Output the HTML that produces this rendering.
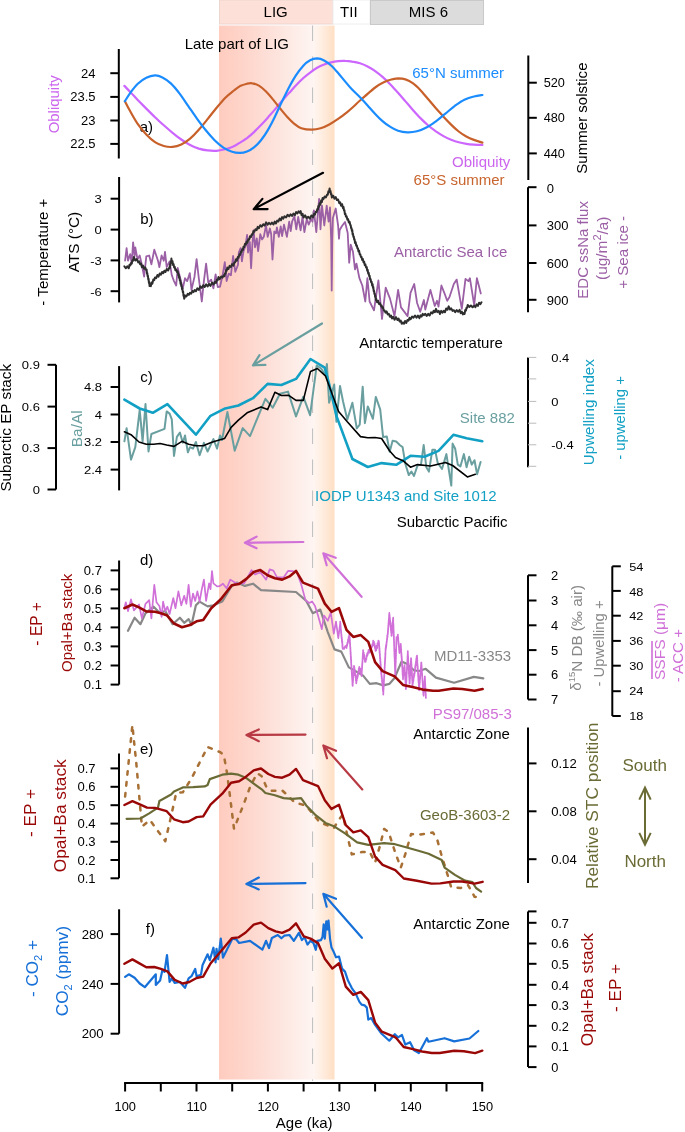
<!DOCTYPE html>
<html><head><meta charset="utf-8"><style>
html,body{margin:0;padding:0;background:#fff;}
svg{display:block;will-change:transform;}
text{font-family:"Liberation Sans",sans-serif;}
</style></head><body>
<svg width="685" height="1132" viewBox="0 0 685 1132">
<defs><linearGradient id="lig" x1="0" x2="1" y1="0" y2="0"><stop offset="0" stop-color="#ffccbf"/><stop offset="0.3" stop-color="#fed6cc"/><stop offset="0.6" stop-color="#fde3dc"/><stop offset="1" stop-color="#fef5f2"/></linearGradient><linearGradient id="tii" x1="0" x2="1" y1="0" y2="0"><stop offset="0" stop-color="#fff6f2"/><stop offset="0.3" stop-color="#fff0e6"/><stop offset="1" stop-color="#ffdfc4"/></linearGradient></defs>
<rect x="0" y="0" width="685" height="1132" fill="#fff"/>
<rect x="219.5" y="0" width="113.5" height="24" fill="#fde0d8" stroke="#ecd6d0" stroke-width="1"/>
<rect x="333" y="0" width="37" height="24" fill="#fff" stroke="#eeeeee" stroke-width="1"/>
<rect x="370.5" y="0.5" width="113" height="24" fill="#dcdcdc" stroke="#c9c9c9" stroke-width="1"/>
<text x="263.55" y="16.6" font-size="15" fill="#000" >LIG</text>
<text x="340.1" y="16.6" font-size="15" fill="#000" >TII</text>
<text x="408.85" y="16.6" font-size="15" fill="#000" >MIS 6</text>
<rect x="219" y="25.5" width="94" height="1054" fill="url(#lig)"/>
<rect x="313" y="25.5" width="21.5" height="1054" fill="url(#tii)"/>
<line x1="312.6" y1="25.5" x2="312.6" y2="1081" stroke="#bdbdbd" stroke-width="1" stroke-dasharray="15.5,15.5"/>
<text x="184.75" y="49" font-size="15" fill="#000" >Late part of LIG</text>
<line x1="118.8" y1="49" x2="118.8" y2="158.5" stroke="#000" stroke-width="2"/>
<line x1="110.3" y1="73.2" x2="118.8" y2="73.2" stroke="#000" stroke-width="2"/>
<line x1="110.3" y1="96.9" x2="118.8" y2="96.9" stroke="#000" stroke-width="2"/>
<line x1="110.3" y1="120.5" x2="118.8" y2="120.5" stroke="#000" stroke-width="2"/>
<line x1="110.3" y1="143.9" x2="118.8" y2="143.9" stroke="#000" stroke-width="2"/>
<text transform="translate(95.57,77.77) scale(1.025,1)" font-size="12.7" fill="#000" text-anchor="end">24</text>
<text transform="translate(95.57,101.47) scale(1.025,1)" font-size="12.7" fill="#000" text-anchor="end">23.5</text>
<text transform="translate(95.57,125.07) scale(1.025,1)" font-size="12.7" fill="#000" text-anchor="end">23</text>
<text transform="translate(95.57,148.47) scale(1.025,1)" font-size="12.7" fill="#000" text-anchor="end">22.5</text>
<text transform="translate(53.6,104.3) rotate(-90)" x="0" y="0" font-size="14.95" fill="#cc66ee" text-anchor="middle" dominant-baseline="central" >Obliquity</text>
<line x1="528.3" y1="55.5" x2="528.3" y2="180" stroke="#000" stroke-width="2"/>
<line x1="528.3" y1="82.7" x2="536.8" y2="82.7" stroke="#000" stroke-width="2"/>
<line x1="528.3" y1="117.8" x2="536.8" y2="117.8" stroke="#000" stroke-width="2"/>
<line x1="528.3" y1="153.4" x2="536.8" y2="153.4" stroke="#000" stroke-width="2"/>
<text transform="translate(543.73,87.27) scale(1.0,1)" font-size="12.7" fill="#000" text-anchor="start">520</text>
<text transform="translate(543.73,122.37) scale(1.0,1)" font-size="12.7" fill="#000" text-anchor="start">480</text>
<text transform="translate(543.73,157.97) scale(1.0,1)" font-size="12.7" fill="#000" text-anchor="start">440</text>
<text transform="translate(581.0,118.1) rotate(-90)" x="0" y="0" font-size="15.06" fill="#000" text-anchor="middle" dominant-baseline="central" >Summer solstice</text>
<text x="139.65" y="131.6" font-size="15" fill="#000" >a)</text>
<text x="412.25" y="78.1" font-size="15" fill="#1a8cff" >65°N summer</text>
<text x="452.0" y="167.4" font-size="15" fill="#cc66ee" >Obliquity</text>
<text x="413.55" y="185" font-size="15" fill="#c8642d" >65°S summer</text>
<path d="M124.4,85.9 C125.4,86.9 128.3,89.9 130.5,92.2 C132.7,94.5 134.9,97.1 137.5,99.8 C140.1,102.5 143.4,105.7 146.3,108.6 C149.2,111.5 152.1,114.4 155.0,117.2 C157.9,120.0 160.9,122.7 163.8,125.3 C166.7,127.9 169.7,130.5 172.6,132.8 C175.5,135.2 178.4,137.5 181.3,139.5 C184.2,141.5 187.2,143.4 190.1,144.9 C193.0,146.4 195.9,147.6 198.8,148.6 C201.7,149.5 204.7,150.1 207.6,150.4 C210.5,150.8 213.5,151.0 216.4,150.8 C219.3,150.6 222.2,150.0 225.1,149.3 C228.0,148.5 231.4,147.3 233.9,146.2 C236.4,145.1 237.8,143.9 240.0,142.6 C242.2,141.2 244.7,139.8 247.0,138.1 C249.3,136.3 251.7,134.3 254.0,132.1 C256.3,129.9 258.7,127.5 261.0,125.1 C263.3,122.6 265.7,120.0 268.0,117.4 C270.3,114.8 272.7,112.1 275.0,109.4 C277.3,106.6 279.6,103.8 282.0,101.0 C284.4,98.3 286.8,95.5 289.1,92.9 C291.5,90.3 293.8,87.6 296.1,85.2 C298.4,82.8 300.8,80.5 303.1,78.3 C305.4,76.2 307.8,74.3 310.1,72.6 C312.4,70.8 314.8,69.2 317.1,67.8 C319.4,66.5 321.8,65.4 324.1,64.5 C326.4,63.5 328.8,62.9 331.1,62.4 C333.4,61.9 335.8,61.5 338.1,61.2 C340.4,60.9 342.8,60.8 345.1,60.9 C347.4,60.9 349.6,61.1 352.1,61.6 C354.6,62.0 357.4,62.5 360.0,63.3 C362.6,64.1 365.1,65.2 367.6,66.5 C370.1,67.8 372.7,69.4 375.2,71.1 C377.7,72.9 380.3,74.9 382.8,77.1 C385.3,79.3 387.9,81.8 390.4,84.4 C392.9,87.0 395.5,89.9 398.0,92.7 C400.5,95.5 403.0,98.5 405.5,101.4 C408.0,104.3 410.6,107.3 413.1,110.2 C415.6,113.0 418.2,115.9 420.7,118.4 C423.2,121.0 425.8,123.4 428.3,125.5 C430.8,127.7 433.4,129.6 435.9,131.4 C438.4,133.1 441.0,134.7 443.5,136.1 C446.0,137.5 448.6,138.8 451.1,139.8 C453.6,140.8 456.2,141.7 458.7,142.3 C461.2,143.0 463.8,143.5 466.3,143.9 C468.8,144.3 471.2,144.5 473.9,144.7 C476.6,144.9 481.0,144.9 482.4,144.9" fill="none" stroke="#cc66ff" stroke-width="2.2" stroke-linecap="round" />
<path d="M124.9,101.2 C125.8,103.0 128.4,108.1 130.5,111.8 C132.6,115.6 134.9,119.8 137.5,123.6 C140.1,127.4 143.4,131.4 146.3,134.5 C149.2,137.6 152.1,140.2 155.0,142.1 C157.9,144.0 160.9,145.2 163.8,146.0 C166.7,146.8 169.7,147.2 172.6,146.9 C175.5,146.7 178.4,145.9 181.3,144.5 C184.2,143.1 187.2,141.0 190.1,138.6 C193.0,136.1 195.9,133.0 198.8,129.7 C201.7,126.5 204.7,122.7 207.6,119.1 C210.5,115.5 213.5,111.6 216.4,108.0 C219.3,104.5 222.2,100.9 225.1,97.9 C228.0,95.0 231.4,92.5 233.9,90.5 C236.4,88.5 237.8,87.3 240.0,86.1 C242.2,85.0 244.9,84.2 247.0,83.7 C249.1,83.2 250.2,82.9 252.3,83.3 C254.4,83.6 257.0,84.5 259.3,85.9 C261.6,87.3 264.0,89.5 266.3,91.8 C268.6,94.2 271.0,97.1 273.3,99.9 C275.6,102.7 278.0,105.8 280.3,108.7 C282.6,111.5 285.0,114.5 287.3,117.0 C289.6,119.5 292.0,121.9 294.3,123.8 C296.6,125.7 298.4,127.2 301.3,128.2 C304.2,129.2 308.6,129.7 311.8,129.7 C315.0,129.7 317.7,129.2 320.6,128.3 C323.5,127.4 326.4,126.1 329.3,124.5 C332.2,122.9 335.2,120.9 338.1,118.9 C341.0,116.9 344.3,114.4 346.9,112.3 C349.5,110.2 351.7,108.2 353.9,106.2 C356.1,104.2 357.7,102.5 360.0,100.5 C362.3,98.4 365.1,96.1 367.6,93.9 C370.1,91.7 372.7,89.4 375.2,87.5 C377.7,85.6 380.3,84.0 382.8,82.8 C385.3,81.5 387.9,80.5 390.4,79.8 C392.9,79.0 395.5,78.5 398.0,78.4 C400.5,78.4 403.0,78.5 405.5,79.4 C408.0,80.2 410.6,81.6 413.1,83.4 C415.6,85.2 418.2,87.8 420.7,90.4 C423.2,93.1 425.8,96.3 428.3,99.3 C430.8,102.3 433.4,105.4 435.9,108.3 C438.4,111.2 441.0,113.9 443.5,116.7 C446.0,119.4 448.6,122.1 451.1,124.6 C453.6,127.1 456.2,129.5 458.7,131.5 C461.2,133.5 463.8,135.1 466.3,136.5 C468.8,137.9 471.2,138.9 473.9,139.9 C476.6,140.9 481.0,142.2 482.4,142.6" fill="none" stroke="#c8602a" stroke-width="2.2" stroke-linecap="round" />
<path d="M124.9,101.2 C125.8,99.8 128.4,95.4 130.5,92.6 C132.6,89.7 134.9,86.5 137.5,84.0 C140.1,81.6 143.4,79.2 146.3,77.8 C149.2,76.3 152.4,75.5 155.0,75.4 C157.6,75.3 159.4,75.8 162.0,77.2 C164.6,78.5 167.9,80.7 170.8,83.4 C173.7,86.1 176.7,89.8 179.6,93.6 C182.5,97.4 185.4,101.9 188.3,106.1 C191.2,110.3 194.2,114.7 197.1,118.8 C200.0,122.8 202.9,126.7 205.8,130.3 C208.7,133.9 211.7,137.3 214.6,140.2 C217.5,143.1 220.5,145.6 223.4,147.6 C226.3,149.5 229.3,150.9 232.1,151.8 C234.9,152.7 237.5,153.0 240.0,152.9 C242.5,152.9 244.7,152.4 247.0,151.4 C249.3,150.5 251.7,149.2 254.0,147.3 C256.3,145.5 258.7,143.1 261.0,140.2 C263.3,137.3 265.7,133.9 268.0,129.9 C270.3,126.0 272.7,121.3 275.0,116.5 C277.3,111.8 279.6,106.3 282.0,101.5 C284.4,96.6 286.8,91.6 289.1,87.2 C291.5,82.8 293.8,78.7 296.1,75.2 C298.4,71.6 300.8,68.4 303.1,65.9 C305.4,63.3 307.8,61.4 310.1,60.2 C312.4,58.9 314.8,58.4 317.1,58.4 C319.4,58.5 321.8,59.2 324.1,60.4 C326.4,61.6 328.8,63.4 331.1,65.5 C333.4,67.6 335.8,70.4 338.1,73.0 C340.4,75.6 342.8,78.7 345.1,81.4 C347.4,84.2 349.6,86.9 352.1,89.6 C354.6,92.2 357.4,94.6 360.0,97.2 C362.6,99.9 365.1,102.6 367.6,105.4 C370.1,108.2 372.7,111.3 375.2,113.9 C377.7,116.6 380.3,119.2 382.8,121.3 C385.3,123.5 387.9,125.4 390.4,126.9 C392.9,128.5 395.2,129.8 398.0,130.7 C400.8,131.6 404.2,132.2 407.4,132.3 C410.5,132.4 413.7,132.1 416.9,131.3 C420.1,130.5 423.2,129.2 426.4,127.5 C429.6,125.9 432.7,123.6 435.9,121.3 C439.1,119.0 442.2,116.1 445.4,113.6 C448.6,111.0 451.7,108.1 454.9,105.8 C458.1,103.6 461.2,101.4 464.4,99.8 C467.6,98.3 470.9,97.3 473.9,96.5 C476.9,95.6 481.0,95.2 482.4,95.0" fill="none" stroke="#1a8cff" stroke-width="2.2" stroke-linecap="round" />
<line x1="119.1" y1="177" x2="119.1" y2="302.4" stroke="#000" stroke-width="2"/>
<line x1="110.6" y1="198.7" x2="119.1" y2="198.7" stroke="#000" stroke-width="2"/>
<line x1="110.6" y1="229.6" x2="119.1" y2="229.6" stroke="#000" stroke-width="2"/>
<line x1="110.6" y1="260.4" x2="119.1" y2="260.4" stroke="#000" stroke-width="2"/>
<line x1="110.6" y1="291.2" x2="119.1" y2="291.2" stroke="#000" stroke-width="2"/>
<text transform="translate(101.72,202.68) scale(1.12,1)" font-size="11.6" fill="#000" text-anchor="end">3</text>
<text transform="translate(101.72,233.78) scale(1.12,1)" font-size="11.6" fill="#000" text-anchor="end">0</text>
<text transform="translate(101.72,264.88) scale(1.12,1)" font-size="11.6" fill="#000" text-anchor="end">-3</text>
<text transform="translate(101.72,295.68) scale(1.12,1)" font-size="11.6" fill="#000" text-anchor="end">-6</text>
<text transform="translate(73.85,242.0) rotate(-90)" x="0" y="0" font-size="15.36" fill="#000" text-anchor="middle" dominant-baseline="central" >ATS (°C)</text>
<text transform="translate(42.8,252.1) rotate(-90)" x="0" y="0" font-size="15.17" fill="#000" text-anchor="middle" dominant-baseline="central" >- Temperature +</text>
<text x="140.25" y="224.3" font-size="15" fill="#000" >b)</text>
<line x1="528" y1="187.2" x2="528" y2="312.3" stroke="#000" stroke-width="2"/>
<line x1="528" y1="187.2" x2="536.5" y2="187.2" stroke="#000" stroke-width="2"/>
<line x1="528" y1="225.4" x2="536.5" y2="225.4" stroke="#000" stroke-width="2"/>
<line x1="528" y1="263" x2="536.5" y2="263" stroke="#000" stroke-width="2"/>
<line x1="528" y1="299.8" x2="536.5" y2="299.8" stroke="#000" stroke-width="2"/>
<text transform="translate(546.73,192.77) scale(1.025,1)" font-size="12.7" fill="#000" text-anchor="start">0</text>
<text transform="translate(546.73,230.17) scale(1.025,1)" font-size="12.7" fill="#000" text-anchor="start">300</text>
<text transform="translate(546.73,267.57) scale(1.025,1)" font-size="12.7" fill="#000" text-anchor="start">600</text>
<text transform="translate(546.73,304.97) scale(1.025,1)" font-size="12.7" fill="#000" text-anchor="start">900</text>
<text transform="translate(582.8,249.9) rotate(-90)" x="0" y="0" font-size="15.03" fill="#9b5fa5" text-anchor="middle" dominant-baseline="central" >EDC ssNa flux</text>
<text transform="translate(601.85,248.25) rotate(-90)" x="0" y="0" font-size="15.42" fill="#9b5fa5" text-anchor="middle" dominant-baseline="central" >(ug/m<tspan dy="-5" font-size="11">2</tspan><tspan dy="5">/a)</tspan></text>
<text transform="translate(622.2,252.35) rotate(-90)" x="0" y="0" font-size="15.19" fill="#9b5fa5" text-anchor="middle" dominant-baseline="central" >+ Sea ice -</text>
<text x="393.95" y="257.4" font-size="15" fill="#9b5fa5" >Antarctic Sea Ice</text>
<text x="359.35" y="347.6" font-size="15" fill="#000" >Antarctic temperature</text>
<polyline  points="125.1,260.7 126.6,248.2 128.0,260.7 130.2,254.1 131.7,263.6 133.1,242.4 134.6,256.3 135.3,247.5 137.5,259.2 139.7,255.5 141.9,265.0 144.1,276.7 146.3,256.3 149.2,255.5 151.4,264.3 154.3,249.7 158.0,260.7 159.4,267.2 161.6,255.5 163.8,260.7 165.0,251.9 166.7,267.2 169.6,261.4 171.8,275.3 174.0,281.1 176.2,285.5 177.7,268.0 179.9,276.7 182.8,288.4 185.0,278.2 187.2,281.1 189.8,273.1 191.5,289.9 194.5,276.7 196.6,259.2 198.8,278.2 201.8,301.5 203.9,281.1 206.1,263.6 208.3,282.6 211.2,279.6 213.4,288.4 215.6,274.5 217.8,287.0 220.0,286.7 222.6,275.3 224.8,262.2 226.6,281.0 228.8,273.6 230.9,275.3 233.1,256.0 235.3,271.8 238.0,264.8 238.8,252.5 240.6,248.2 241.9,261.3 243.6,250.8 245.4,246.4 247.1,235.0 248.0,252.5 249.8,242.0 251.1,268.3 252.4,243.8 253.7,230.2 255.0,247.3 256.8,238.5 258.1,251.2 260.3,234.2 262.0,239.4 263.8,236.8 266.0,225.4 267.7,236.8 269.9,228.5 271.2,234.2 272.5,259.5 274.3,231.5 276.0,233.3 276.9,227.4 278.8,236.9 280.7,226.5 282.1,236.0 284.0,224.6 286.9,236.9 289.2,221.7 290.7,231.2 292.1,221.7 294.4,216.1 296.3,229.3 298.2,217.0 300.6,230.3 302.5,217.0 304.4,232.2 306.8,218.9 308.7,224.6 311.1,218.9 312.5,221.7 313.9,210.4 316.3,232.2 319.1,199.0 320.5,229.3 322.0,205.6 324.3,225.5 326.7,205.6 328.6,221.7 330.0,207.5 331.2,240.0 331.7,290.6 332.3,240.0 332.9,218.0 335.7,208.5 338.1,225.5 339.0,238.8 339.7,230.0 342.0,226.0 345.0,222.0 347.7,233.0 349.2,262.8 350.7,244.6 353.0,252.0 355.0,269.4 356.5,263.6 359.4,278.2 362.3,285.5 365.3,301.5 367.4,278.2 369.6,301.5 374.0,310.3 375.5,300.0 378.4,280.4 382.0,319.0 385.7,287.7 390.0,298.6 394.5,316.1 398.1,289.9 401.0,307.4 407.6,316.1 410.5,292.8 414.2,284.0 417.1,303.0 420.2,311.8 423.9,300.0 425.3,309.6 430.4,289.9 434.8,305.9 437.0,300.8 438.5,306.6 441.4,285.5 444.3,292.8 447.2,300.8 449.4,297.2 453.8,284.0 456.7,279.6 461.8,308.8 465.5,278.9 468.4,281.1 469.9,278.2 474.2,305.2 476.9,278.2 478.6,284.7 480.8,293.5" fill="none" stroke="#9b5fa5" stroke-width="1.8" stroke-linejoin="round" stroke-linecap="round"/>
<polyline  points="124.4,266.4 125.9,268.3 127.3,266.3 128.8,268.3 129.5,264.8 130.3,265.4 131.0,262.9 131.7,263.6 132.4,260.2 133.2,260.6 133.9,257.0 135.3,260.5 136.8,259.1 138.2,262.4 139.1,261.3 140.1,264.3 141.0,263.5 141.9,267.2 143.0,265.6 144.1,268.9 145.2,267.3 146.3,270.1 146.6,269.6 147.0,273.6 147.3,273.1 147.6,276.1 147.9,275.7 148.3,279.6 148.6,278.8 148.9,283.0 149.2,281.9 149.6,286.1 149.9,285.2 150.8,286.2 151.6,282.5 152.4,283.6 153.3,279.5 154.2,280.2 155.0,277.5 156.2,278.1 157.4,275.0 158.5,276.6 159.7,273.5 160.9,274.7 162.1,272.0 163.2,273.3 164.4,270.7 165.5,272.0 166.7,269.0 168.1,270.5 169.6,266.8 169.9,268.1 170.2,263.9 170.5,265.4 170.8,261.4 171.1,262.0 171.4,258.5 171.9,262.7 172.5,261.2 173.1,265.1 173.6,264.1 174.1,267.4 174.7,266.7 175.4,270.3 176.2,269.5 176.9,272.1 177.7,271.3 178.4,275.3 178.8,274.6 179.1,278.0 179.5,277.2 179.8,280.4 180.2,280.2 180.6,283.9 180.9,282.7 181.3,286.1 181.7,285.8 182.0,289.1 182.4,288.6 182.8,292.2 183.1,291.4 183.5,295.8 183.8,294.7 184.2,298.7 185.4,295.6 186.5,296.4 187.7,293.8 188.8,294.9 190.0,292.7 191.2,293.7 192.4,290.9 193.5,292.1 194.7,290.0 195.9,291.3 197.4,288.3 198.8,289.9 200.3,286.3 201.7,287.9 203.2,285.2 204.7,287.0 206.1,284.4 207.6,286.4 209.0,283.9 210.5,285.9 212.0,282.6 213.5,284.5 215.0,281.8 215.9,283.0 216.8,279.8 217.6,280.4 218.5,277.0 219.8,279.1 221.2,276.5 222.5,277.6 223.8,275.3 224.4,276.2 225.0,273.2 225.6,273.7 226.1,270.1 226.7,270.7 227.3,267.6 228.5,269.0 229.6,265.9 230.8,267.1 232.1,264.1 233.4,265.7 234.3,262.5 235.1,262.5 236.0,259.3 236.9,260.7 237.8,257.1 238.6,257.6 239.5,254.2 240.2,254.9 240.8,251.8 241.5,252.3 242.2,249.2 242.9,250.0 243.5,246.7 244.2,247.2 245.0,243.8 245.9,244.4 246.7,241.5 247.5,242.6 248.3,239.2 249.2,239.6 250.0,236.3 250.9,237.1 251.8,234.2 252.6,234.6 253.5,231.1 254.4,231.7 255.5,229.2 256.6,230.1 257.7,226.9 258.8,228.3 260.3,225.2 261.7,226.6 263.2,224.2 264.6,225.6 266.1,222.3 267.6,224.7 269.0,222.9 270.5,224.4 271.9,222.6 273.4,224.5 274.7,221.6 275.9,223.5 277.2,220.6 278.4,221.4 279.7,218.5 280.9,220.3 282.1,217.1 283.3,218.6 284.5,216.3 286.1,217.4 287.6,214.8 289.2,216.4 290.6,214.3 292.0,215.9 293.5,213.6 294.9,215.2 296.1,212.0 297.3,213.5 298.5,211.4 299.7,212.7 300.6,211.1 301.6,215.2 302.6,213.9 303.5,217.6 305.1,215.3 306.6,218.2 308.2,216.7 309.8,218.7 311.4,215.5 313.0,217.2 313.9,214.0 314.9,214.6 315.8,211.7 316.7,212.0 317.3,208.9 317.9,209.5 318.4,206.0 319.0,206.7 319.6,203.3 320.4,204.6 321.1,200.6 321.9,202.1 322.6,197.9 323.4,199.1 324.7,196.5 325.9,197.4 327.2,194.4 327.8,194.6 328.4,191.2 329.0,192.0 329.6,188.5 330.1,192.3 330.5,191.0 331.0,194.4 331.4,194.0 331.9,197.5 333.2,195.7 334.4,198.7 335.7,197.1 336.9,200.0 338.1,199.5 339.3,203.1 340.2,202.3 341.1,205.7 342.1,204.2 343.0,208.2 343.5,207.0 344.0,210.4 344.4,210.1 344.9,214.1 345.4,213.6 345.9,216.5 346.6,216.3 347.4,219.7 348.1,219.1 348.8,222.5 349.6,221.7 350.3,225.0 350.7,225.2 351.1,228.0 351.5,228.0 351.9,230.8 352.3,230.1 352.6,234.4 353.0,233.8 353.4,237.0 353.8,236.5 354.2,239.7 354.6,239.3 355.0,242.9 355.6,242.0 356.2,245.5 356.8,245.3 357.4,248.4 357.9,248.3 358.5,251.6 359.1,250.7 359.7,254.3 360.3,254.2 360.9,257.1 361.5,256.7 362.2,260.0 362.8,258.9 363.5,262.4 364.1,261.5 364.8,265.3 365.4,264.4 366.1,267.6 366.7,267.0 367.2,270.7 367.7,269.9 368.2,273.6 368.7,272.8 369.2,276.1 369.6,275.7 370.1,279.4 370.6,279.0 371.1,282.1 371.6,281.6 372.1,285.4 372.6,284.1 373.0,287.9 373.3,287.0 373.7,291.2 374.0,290.5 374.4,293.8 374.8,293.5 375.1,297.0 375.5,295.9 375.8,299.9 376.2,298.7 377.1,302.2 378.1,300.7 379.0,304.0 380.0,303.2 380.9,306.0 381.6,305.5 382.3,308.1 383.0,307.3 383.7,310.4 384.4,310.3 385.5,312.6 386.6,311.4 387.7,314.4 388.8,313.9 389.9,316.7 391.0,315.5 392.0,318.5 393.1,316.8 394.6,319.7 396.0,317.1 397.5,320.0 398.6,318.5 399.6,321.5 400.7,320.5 401.7,323.8 402.8,322.5 404.0,323.7 405.1,321.0 406.3,322.9 407.4,320.0 408.5,320.6 409.5,317.8 410.6,319.3 412.1,316.6 413.5,317.6 415.0,315.5 416.5,317.7 417.9,315.6 419.4,318.1 420.5,315.4 421.6,316.6 422.7,313.9 423.8,315.1 425.3,313.9 426.7,316.0 428.2,313.9 429.6,315.5 431.1,312.4 432.5,313.5 433.7,310.7 434.8,312.3 436.0,308.9 437.3,312.1 438.7,310.9 440.0,314.0 441.2,310.9 442.5,312.6 443.8,310.8 445.0,312.3 446.2,308.4 447.5,309.7 448.7,306.4 450.0,309.5 451.2,308.4 452.5,310.9 453.8,310.2 455.2,312.1 456.7,310.1 458.2,311.8 459.6,309.8 460.7,313.2 461.8,311.6 462.9,314.4 464.0,312.9 464.6,313.9 465.2,310.1 465.9,310.7 466.5,307.8 467.1,307.9 467.7,304.9 469.3,307.0 470.9,305.5 472.6,307.3 474.2,305.7 475.4,307.2 476.6,304.4 477.9,305.9 479.1,302.7 480.3,304.2 481.5,302.3" fill="none" stroke="#2e2e2e" stroke-width="2.0" stroke-linejoin="round" stroke-linecap="round"/>
<path d="M323,172.8 L253.7,209.1 M262.4,198.9 L253.7,209.1 L267.6,209.1" fill="none" stroke="#000" stroke-width="2.2" stroke-linecap="round" stroke-linejoin="round"/>
<line x1="56" y1="364.8" x2="56" y2="489.5" stroke="#000" stroke-width="2"/>
<line x1="47.5" y1="364.8" x2="56" y2="364.8" stroke="#000" stroke-width="2"/>
<line x1="47.5" y1="406.6" x2="56" y2="406.6" stroke="#000" stroke-width="2"/>
<line x1="47.5" y1="448.1" x2="56" y2="448.1" stroke="#000" stroke-width="2"/>
<line x1="47.5" y1="489.5" x2="56" y2="489.5" stroke="#000" stroke-width="2"/>
<text transform="translate(39.92,368.98) scale(1.12,1)" font-size="11.6" fill="#000" text-anchor="end">0.9</text>
<text transform="translate(39.92,410.78) scale(1.12,1)" font-size="11.6" fill="#000" text-anchor="end">0.6</text>
<text transform="translate(39.92,452.28) scale(1.12,1)" font-size="11.6" fill="#000" text-anchor="end">0.3</text>
<text transform="translate(39.92,493.68) scale(1.12,1)" font-size="11.6" fill="#000" text-anchor="end">0</text>
<text transform="translate(5.8,427.75) rotate(-90)" x="0" y="0" font-size="15.25" fill="#000" text-anchor="middle" dominant-baseline="central" >Subarctic EP stack</text>
<line x1="119.1" y1="366.1" x2="119.1" y2="490.4" stroke="#000" stroke-width="2"/>
<line x1="110.6" y1="387" x2="119.1" y2="387" stroke="#000" stroke-width="2"/>
<line x1="110.6" y1="414.5" x2="119.1" y2="414.5" stroke="#000" stroke-width="2"/>
<line x1="110.6" y1="442" x2="119.1" y2="442" stroke="#000" stroke-width="2"/>
<line x1="110.6" y1="469.6" x2="119.1" y2="469.6" stroke="#000" stroke-width="2"/>
<text transform="translate(102.02,391.08) scale(1.12,1)" font-size="11.6" fill="#000" text-anchor="end">4.8</text>
<text transform="translate(102.02,418.88) scale(1.12,1)" font-size="11.6" fill="#000" text-anchor="end">4</text>
<text transform="translate(102.02,446.18) scale(1.12,1)" font-size="11.6" fill="#000" text-anchor="end">3.2</text>
<text transform="translate(102.02,473.98) scale(1.12,1)" font-size="11.6" fill="#000" text-anchor="end">2.4</text>
<text transform="translate(76.05,428.75) rotate(-90)" x="0" y="0" font-size="15.4" fill="#6a9fa0" text-anchor="middle" dominant-baseline="central" >Ba/Al</text>
<text x="140.35" y="382" font-size="15" fill="#000" >c)</text>
<line x1="528" y1="357.4" x2="528" y2="467.2" stroke="#000" stroke-width="2"/>
<line x1="528" y1="357.4" x2="536.3" y2="357.4" stroke="#bbb" stroke-width="1"/>
<line x1="528" y1="378.9" x2="536.3" y2="378.9" stroke="#bbb" stroke-width="1"/>
<line x1="528" y1="401.4" x2="536.3" y2="401.4" stroke="#bbb" stroke-width="1"/>
<line x1="528" y1="423.2" x2="536.3" y2="423.2" stroke="#bbb" stroke-width="1"/>
<line x1="528" y1="444.8" x2="536.3" y2="444.8" stroke="#bbb" stroke-width="1"/>
<line x1="528" y1="466.3" x2="536.3" y2="466.3" stroke="#bbb" stroke-width="1"/>
<text transform="translate(551.28,361.98) scale(1.12,1)" font-size="11.6" fill="#000" text-anchor="start">0.4</text>
<text transform="translate(551.28,405.98) scale(1.12,1)" font-size="11.6" fill="#000" text-anchor="start">0</text>
<text transform="translate(551.28,449.38) scale(1.12,1)" font-size="11.6" fill="#000" text-anchor="start">-0.4</text>
<text transform="translate(588.85,412.2) rotate(-90)" x="0" y="0" font-size="15.15" fill="#12a0c4" text-anchor="middle" dominant-baseline="central" >Upwelling index</text>
<text transform="translate(619.8,417.95) rotate(-90)" x="0" y="0" font-size="14.8" fill="#12a0c4" text-anchor="middle" dominant-baseline="central" >- upwelling +</text>
<text x="459.85" y="422.6" font-size="15" fill="#6a9fa0" >Site 882</text>
<text x="315.1" y="500.5" font-size="15" fill="#12a0c4" >IODP U1343 and Site 1012</text>
<text x="396.7" y="527.1" font-size="15" fill="#000" >Subarctic Pacific</text>
<polyline  points="124.4,441.3 126.6,428.2 131.0,459.6 135.3,447.2 139.7,409.9 142.6,441.3 145.5,404.1 148.5,451.5 151.4,434.0 164.5,428.9 166.7,411.4 169.6,413.6 171.8,419.4 174.0,455.9 176.9,436.9 179.9,432.6 182.8,442.8 185.0,435.5 187.9,452.3 190.0,447.2 193.0,448.6 195.9,442.0 199.6,455.2 203.9,442.8 207.6,451.5 213.4,439.1 217.1,448.6 220.0,435.5 222.0,440.0 227.4,412.0 234.7,450.7 242.7,428.1 250.0,436.1 265.4,398.9 272.7,407.7 280.0,393.8 288.0,391.6 296.0,416.4 303.3,396.7 310.1,415.2 316.7,365.5 321.1,368.5 325.4,375.0 326.9,364.1 329.1,402.8 334.2,384.5 336.4,421.8 340.0,386.0 343.0,401.3 347.3,419.6 352.4,402.8 356.8,428.3 359.7,424.7 362.7,386.7 364.9,423.2 367.8,406.4 372.9,418.8 375.8,396.9 380.2,409.3 383.1,437.1 386.8,436.4 389.7,451.7 392.6,440.7 396.2,441.5 400.0,445.3 402.6,447.1 405.3,463.7 408.8,475.1 411.4,471.6 414.0,476.0 417.5,465.5 421.0,464.6 423.7,445.0 426.3,467.2 428.9,471.6 432.4,449.7 435.0,449.7 437.7,462.9 442.0,469.0 446.4,454.1 449.1,471.6 451.3,485.6 452.6,443.6 455.2,448.8 457.8,464.6 460.4,466.4 463.9,454.1 466.6,467.2 469.2,456.7 471.8,464.6 474.5,460.2 477.1,474.2 480.6,462.0" fill="none" stroke="#6a9fa0" stroke-width="2" stroke-linejoin="round" stroke-linecap="round"/>
<polyline  points="124.4,399.7 139.7,408.5 152.8,412.8 167.4,404.1 195.9,434.7 210.5,415.8 225.2,408.4 238.4,405.5 253.0,398.2 267.6,383.9 281.4,385.0 296.0,378.9 310.5,359.0 324.7,367.7 329.1,383.8 336.4,415.9 352.4,459.0 367.8,467.0 381.6,463.1 396.2,464.8 410.5,455.8 424.5,456.7 438.5,450.9 453.4,434.8 466.6,438.3 482.3,441.3" fill="none" stroke="#12a0c4" stroke-width="2.6" stroke-linejoin="round" stroke-linecap="round"/>
<polyline  points="124.4,431.8 131.0,434.7 139.0,442.0 146.3,444.2 153.6,444.2 160.1,443.5 166.7,445.0 174.0,446.4 182.0,441.3 188.6,444.2 195.9,445.7 203.2,445.7 210.5,442.8 215.0,441.2 224.5,438.6 231.1,427.4 238.4,420.1 247.1,412.8 261.0,406.9 267.6,409.6 274.9,392.3 281.4,395.5 288.7,395.3 296.0,400.4 303.3,400.4 310.5,371.4 317.4,368.5 325.4,375.8 338.6,411.5 347.3,421.8 360.5,436.6 367.8,437.8 375.0,437.5 381.6,438.5 389.7,451.0 395.5,457.5 403.5,461.1 410.5,467.2 417.5,464.6 430.7,466.0 445.5,462.5 452.6,465.5 467.4,476.9 475.3,474.2" fill="none" stroke="#000" stroke-width="1.6" stroke-linejoin="round" stroke-linecap="round"/>
<path d="M322,323.5 L253,365.3 M259.5,355.1 L253,365.3 L265.4,364.9" fill="none" stroke="#6a9fa0" stroke-width="2.2" stroke-linecap="round" stroke-linejoin="round"/>
<line x1="119.1" y1="560.5" x2="119.1" y2="684.6" stroke="#000" stroke-width="2"/>
<line x1="110.6" y1="570.4" x2="119.1" y2="570.4" stroke="#000" stroke-width="2"/>
<line x1="110.6" y1="589.4" x2="119.1" y2="589.4" stroke="#000" stroke-width="2"/>
<line x1="110.6" y1="608.4" x2="119.1" y2="608.4" stroke="#000" stroke-width="2"/>
<line x1="110.6" y1="627.4" x2="119.1" y2="627.4" stroke="#000" stroke-width="2"/>
<line x1="110.6" y1="646.4" x2="119.1" y2="646.4" stroke="#000" stroke-width="2"/>
<line x1="110.6" y1="665.5" x2="119.1" y2="665.5" stroke="#000" stroke-width="2"/>
<line x1="110.6" y1="684.6" x2="119.1" y2="684.6" stroke="#000" stroke-width="2"/>
<text transform="translate(101.84,574.62) scale(1.08,1)" font-size="12.0" fill="#000" text-anchor="end">0.7</text>
<text transform="translate(101.84,594.02) scale(1.08,1)" font-size="12.0" fill="#000" text-anchor="end">0.6</text>
<text transform="translate(101.84,613.22) scale(1.08,1)" font-size="12.0" fill="#000" text-anchor="end">0.5</text>
<text transform="translate(101.84,632.32) scale(1.08,1)" font-size="12.0" fill="#000" text-anchor="end">0.4</text>
<text transform="translate(101.84,651.42) scale(1.08,1)" font-size="12.0" fill="#000" text-anchor="end">0.3</text>
<text transform="translate(101.84,670.32) scale(1.08,1)" font-size="12.0" fill="#000" text-anchor="end">0.2</text>
<text transform="translate(101.84,689.02) scale(1.08,1)" font-size="12.0" fill="#000" text-anchor="end">0.1</text>
<text transform="translate(66.65,622.85) rotate(-90)" x="0" y="0" font-size="15.08" fill="#9a0707" text-anchor="middle" dominant-baseline="central" >Opal+Ba stack</text>
<text transform="translate(36.45,623.9) rotate(-90)" x="0" y="0" font-size="15.6" fill="#9a0707" text-anchor="middle" dominant-baseline="central" >- EP +</text>
<text x="140.0" y="565.2" font-size="15" fill="#000" >d)</text>
<line x1="528" y1="575.3" x2="528" y2="699.5" stroke="#000" stroke-width="2"/>
<line x1="528" y1="575.3" x2="536.5" y2="575.3" stroke="#000" stroke-width="2"/>
<line x1="528" y1="600.5" x2="536.5" y2="600.5" stroke="#000" stroke-width="2"/>
<line x1="528" y1="625.3" x2="536.5" y2="625.3" stroke="#000" stroke-width="2"/>
<line x1="528" y1="650.1" x2="536.5" y2="650.1" stroke="#000" stroke-width="2"/>
<line x1="528" y1="674.7" x2="536.5" y2="674.7" stroke="#000" stroke-width="2"/>
<line x1="528" y1="699.5" x2="536.5" y2="699.5" stroke="#000" stroke-width="2"/>
<text transform="translate(551.06,580.22) scale(1.08,1)" font-size="12.0" fill="#000" text-anchor="start">2</text>
<text transform="translate(551.06,605.02) scale(1.08,1)" font-size="12.0" fill="#000" text-anchor="start">3</text>
<text transform="translate(551.06,629.82) scale(1.08,1)" font-size="12.0" fill="#000" text-anchor="start">4</text>
<text transform="translate(551.06,654.62) scale(1.08,1)" font-size="12.0" fill="#000" text-anchor="start">5</text>
<text transform="translate(551.06,679.22) scale(1.08,1)" font-size="12.0" fill="#000" text-anchor="start">6</text>
<text transform="translate(551.06,703.82) scale(1.08,1)" font-size="12.0" fill="#000" text-anchor="start">7</text>
<text transform="translate(575.85,637.85) rotate(-90)" x="0" y="0" font-size="15.16" fill="#888888" text-anchor="middle" dominant-baseline="central" >δ<tspan dy="-5" font-size="9.5">15</tspan><tspan dy="5">N DB (‰ air)</tspan></text>
<text transform="translate(599.0,643.5) rotate(-90)" x="0" y="0" font-size="14.83" fill="#888888" text-anchor="middle" dominant-baseline="central" >- Upwelling +</text>
<line x1="612.3" y1="566.3" x2="612.3" y2="716" stroke="#000" stroke-width="2"/>
<line x1="612.3" y1="566.3" x2="620.8" y2="566.3" stroke="#000" stroke-width="2"/>
<line x1="612.3" y1="590.9" x2="620.8" y2="590.9" stroke="#000" stroke-width="2"/>
<line x1="612.3" y1="615.7" x2="620.8" y2="615.7" stroke="#000" stroke-width="2"/>
<line x1="612.3" y1="640.9" x2="620.8" y2="640.9" stroke="#000" stroke-width="2"/>
<line x1="612.3" y1="665.7" x2="620.8" y2="665.7" stroke="#000" stroke-width="2"/>
<line x1="612.3" y1="691.2" x2="620.8" y2="691.2" stroke="#000" stroke-width="2"/>
<line x1="612.3" y1="716" x2="620.8" y2="716" stroke="#000" stroke-width="2"/>
<text transform="translate(629.18,570.98) scale(1.1,1)" font-size="11.6" fill="#000" text-anchor="start">54</text>
<text transform="translate(629.18,595.78) scale(1.1,1)" font-size="11.6" fill="#000" text-anchor="start">48</text>
<text transform="translate(629.18,620.48) scale(1.1,1)" font-size="11.6" fill="#000" text-anchor="start">42</text>
<text transform="translate(629.18,645.28) scale(1.1,1)" font-size="11.6" fill="#000" text-anchor="start">36</text>
<text transform="translate(629.18,670.08) scale(1.1,1)" font-size="11.6" fill="#000" text-anchor="start">30</text>
<text transform="translate(629.18,695.08) scale(1.1,1)" font-size="11.6" fill="#000" text-anchor="start">24</text>
<text transform="translate(629.18,720.08) scale(1.1,1)" font-size="11.6" fill="#000" text-anchor="start">18</text>
<text transform="translate(659.3,641.45) rotate(-90)" x="0" y="0" font-size="15.56" fill="#d070d8" text-anchor="middle" dominant-baseline="central" >SSFS (μm)</text>
<text transform="translate(677.6,655.65) rotate(-90)" x="0" y="0" font-size="15.14" fill="#d070d8" text-anchor="middle" dominant-baseline="central" >- ACC +</text>
<line x1="652" y1="641" x2="652" y2="679" stroke="#d070d8" stroke-width="1.6"/>
<text x="433.9" y="660.8" font-size="15" fill="#888888" >MD11-3353</text>
<text x="432.65" y="719.2" font-size="15" fill="#d070d8" >PS97/085-3</text>
<text x="413.15" y="739.1" font-size="15" fill="#000" >Antarctic Zone</text>
<polyline  points="128.0,630.8 134.6,617.7 140.4,624.2 145.5,613.3 153.6,606.7 159.4,612.6 165.3,611.1 172.6,624.2 179.9,617.7 184.2,622.8 188.6,619.1 191.5,625.0 195.9,605.3 199.6,601.6 207.6,606.4 213.4,605.3 222.3,601.5 231.1,586.9 236.9,582.6 244.9,585.9 253.0,583.7 261.0,590.1 296.0,592.0 306.0,600.6 312.8,613.3 320.3,609.6 327.8,632.1 334.5,649.4 341.3,651.6 348.8,667.4 355.6,671.1 363.1,675.6 369.8,683.9 376.6,683.2 383.3,685.4 389.3,683.9 394.6,677.9 401.6,661.5 406.7,663.7 414.0,670.3 419.1,671.0 425.7,668.8 435.9,677.6 454.1,682.7 473.8,676.9 483.3,678.3" fill="none" stroke="#888888" stroke-width="2.2" stroke-linejoin="round" stroke-linecap="round"/>
<polyline  points="124.4,608.0 125.8,602.3 128.0,611.1 131.0,599.4 133.9,610.4 139.0,604.5 141.9,618.4 145.5,603.8 149.2,600.1 151.4,618.4 154.3,584.8 156.5,602.3 159.4,606.0 161.6,616.9 163.1,601.6 165.3,611.1 167.4,606.7 169.6,614.0 173.3,598.0 175.5,608.2 178.4,591.4 181.3,605.3 184.2,595.8 186.4,603.8 188.6,584.8 190.8,606.7 193.0,593.6 195.2,600.9 197.4,591.4 199.6,601.6 201.8,589.2 203.9,579.7 206.1,600.9 209.1,583.4 210.5,589.2 212.0,571.0 213.4,583.4 217.1,586.3 219.4,586.2 223.0,583.7 226.7,588.4 230.3,579.6 236.2,583.3 244.2,583.3 251.5,570.1 255.1,574.5 260.3,572.3 266.1,579.6 269.7,569.4 273.4,570.6 277.0,577.4 283.6,577.4 288.0,570.9 293.1,571.2 296.8,572.3 301.1,584.0 305.5,600.1 309.2,603.0 312.1,601.5 315.0,605.9 318.0,615.6 321.8,629.1 324.0,615.6 327.8,620.8 330.8,612.6 333.8,633.6 336.0,621.6 338.3,638.1 340.2,623.1 340.2,621.6 340.3,626.0 340.5,623.6 340.6,628.4 340.7,626.6 340.9,631.1 341.0,629.6 341.1,633.6 341.2,631.6 341.4,636.5 341.5,634.8 341.6,638.4 341.8,637.4 341.9,641.6 342.0,639.2 342.1,643.2 342.3,641.3 342.4,646.9 342.5,644.3 342.7,649.0 342.8,647.5 344.0,649.0 345.3,646.0 346.5,648.1 346.8,644.8 347.1,645.9 347.4,642.6 347.7,643.8 348.0,639.6 348.3,641.9 348.6,637.1 348.9,639.2 349.2,634.8 349.5,636.9 349.6,634.9 349.7,638.9 349.7,636.8 349.8,642.5 349.9,639.6 350.0,644.7 350.1,642.8 350.1,646.6 350.2,645.4 350.3,649.0 350.4,647.4 350.5,652.0 350.5,649.9 350.6,654.5 350.7,652.3 350.8,657.7 350.9,656.1 350.9,659.5 351.0,657.5 351.1,662.4 351.2,660.0 351.2,664.9 351.3,663.8 351.4,667.8 351.5,665.4 351.6,669.9 351.6,668.9 351.7,672.5 351.8,670.3 351.9,675.7 352.0,674.0 352.0,677.6 352.1,676.6 352.2,679.9 352.3,678.3 352.4,682.6 352.4,681.2 352.5,685.6 352.6,684.3 352.7,686.0 352.8,681.8 352.9,683.4 353.0,679.4 353.1,680.6 353.2,676.7 353.3,677.9 353.4,673.2 353.5,676.1 353.6,671.6 353.7,673.7 353.8,669.2 353.9,670.5 354.0,665.8 354.1,668.3 354.3,666.8 354.5,671.3 354.7,669.2 354.8,672.9 355.0,671.0 355.2,675.5 355.4,674.1 355.6,677.6 355.8,676.9 355.9,680.8 356.1,679.2 356.3,683.4 356.6,679.1 356.8,680.7 357.1,675.8 357.4,678.3 357.7,673.9 357.9,676.3 358.2,671.9 358.5,672.9 358.8,668.5 359.0,671.3 359.3,666.9 359.8,670.4 360.2,668.6 360.7,673.8 361.1,671.8 361.6,676.2 361.7,670.7 361.8,673.1 361.9,668.7 362.0,669.8 362.0,666.6 362.1,668.3 362.2,663.6 362.3,665.3 362.4,661.0 362.5,662.8 362.6,657.9 362.7,659.5 362.7,655.8 362.8,657.4 362.9,653.3 363.0,654.1 363.1,650.0 363.4,654.9 363.7,652.5 363.9,656.8 364.2,654.8 364.5,659.3 364.8,658.6 365.0,662.0 365.3,660.6 365.6,661.8 366.0,658.4 366.3,659.6 366.6,655.3 366.9,656.7 367.3,653.0 367.6,655.2 368.6,649.9 369.6,652.8 370.6,648.3 371.0,650.5 371.5,646.5 371.9,647.2 372.3,644.1 372.7,645.8 373.2,640.6 373.6,643.3 373.9,641.5 374.2,645.4 374.5,643.4 374.9,648.1 375.2,646.2 375.5,651.0 375.8,649.1 376.2,650.4 376.7,645.7 377.1,648.3 377.5,643.1 377.9,645.5 378.4,640.5 378.8,643.2 378.9,641.1 379.0,645.5 379.1,642.9 379.2,648.3 379.3,646.2 379.4,650.8 379.5,648.2 379.6,653.2 379.7,651.1 379.8,655.5 379.9,653.8 380.0,658.4 380.1,657.1 380.2,661.1 380.3,658.5 380.4,664.0 380.5,661.4 380.6,666.0 380.7,664.0 380.8,668.8 380.9,667.0 381.0,671.8 381.1,670.1 381.2,674.3 381.4,672.7 381.5,676.6 381.6,674.7 381.7,678.7 381.9,677.0 382.0,681.6 382.1,679.7 382.3,684.7 382.4,682.7 382.5,686.1 382.7,685.2 382.8,689.5 382.9,687.9 383.0,691.4 383.2,689.5 383.3,694.7 383.4,690.1 383.4,692.4 383.5,687.7 383.6,689.5 383.6,685.3 383.7,686.6 383.8,681.9 383.9,684.6 383.9,679.2 384.0,681.3 384.1,677.0 384.1,678.6 384.2,675.0 384.3,676.3 384.3,671.5 384.4,674.1 384.5,669.0 384.6,671.7 384.6,667.0 384.7,668.1 384.8,664.2 384.8,665.6 384.9,661.9 385.0,663.2 385.0,658.8 385.1,660.7 385.2,656.6 385.3,658.6 385.3,653.1 385.4,655.5 385.5,651.7 385.5,652.3 385.6,648.1 385.8,649.8 385.9,645.7 386.1,647.9 386.3,643.7 386.4,645.7 386.6,641.6 386.8,642.3 387.0,638.5 387.1,639.6 387.3,635.4 387.5,637.3 387.6,633.8 387.8,634.5 387.9,630.6 388.0,632.5 388.1,628.0 388.2,630.1 388.3,625.2 388.4,627.9 388.5,622.7 388.6,624.3 388.7,620.4 388.8,621.7 388.9,618.4 389.0,619.5 389.1,614.9 389.2,616.5 389.3,612.9 389.4,616.7 389.6,614.9 389.7,619.6 389.9,617.7 390.0,622.5 390.2,620.6 390.3,625.2 390.5,622.5 390.6,626.9 390.7,625.1 390.9,630.4 391.0,628.8 391.2,632.6 391.3,630.8 391.5,635.9 391.6,633.7 391.7,635.5 391.8,630.5 391.9,633.2 392.1,627.9 392.2,630.2 392.3,625.7 392.4,627.4 392.5,623.1 392.6,625.6 392.8,620.7 392.9,623.0 393.0,618.7 393.1,620.7 393.2,617.7 393.2,623.4 393.2,620.9 393.3,625.7 393.4,623.8 393.4,628.5 393.5,625.7 393.5,630.3 393.6,629.3 393.6,633.0 393.7,631.2 393.7,636.0 393.8,633.9 393.8,637.7 393.9,636.1 393.9,640.3 394.0,638.7 394.0,643.0 394.1,641.9 394.1,646.4 394.2,644.7 394.2,648.2 394.2,646.8 394.3,651.5 394.4,649.0 394.4,654.1 394.4,651.4 394.5,656.4 394.6,654.0 394.6,658.5 394.7,657.6 394.7,661.6 394.8,660.1 394.8,664.5 394.9,662.2 394.9,666.8 394.9,664.5 395.0,669.4 395.1,667.8 395.1,671.8 395.2,669.7 395.2,675.1 395.2,673.1 395.3,677.6 395.3,672.2 395.4,674.6 395.4,670.1 395.5,671.6 395.5,667.6 395.5,669.4 395.6,664.9 395.6,666.2 395.7,661.8 395.7,664.3 395.8,660.0 395.8,662.1 395.8,657.2 395.9,659.1 395.9,654.5 396.0,655.9 396.0,652.1 396.0,653.8 396.1,649.0 396.1,651.9 396.2,647.3 396.2,648.7 396.3,644.9 396.3,646.1 396.3,641.4 396.4,644.1 396.4,639.3 396.5,640.8 396.5,637.1 397.2,639.1 397.9,634.6 398.0,639.1 398.2,637.4 398.3,641.6 398.4,640.9 398.6,644.5 398.7,642.9 398.9,647.3 399.0,646.0 399.1,650.3 399.3,649.0 399.4,653.1 399.7,649.1 400.0,650.5 400.2,646.6 400.5,647.8 400.8,643.9 400.9,648.2 401.0,646.7 401.1,650.8 401.2,649.1 401.2,653.0 401.3,652.1 401.4,656.2 401.5,654.0 401.6,658.6 401.7,656.3 401.8,661.3 401.9,658.9 401.9,663.4 402.0,661.6 402.1,666.7 402.2,664.0 402.3,668.6 402.4,667.3 402.5,672.0 402.6,670.0 402.6,674.7 402.7,671.7 402.8,676.1 402.9,675.1 403.0,679.4 403.2,675.1 403.3,676.0 403.5,671.7 403.7,673.8 403.8,669.2 404.0,670.8 404.2,667.1 404.3,669.0 404.5,665.0 404.6,668.3 404.7,666.7 404.7,671.9 404.8,668.9 404.9,673.4 405.0,672.2 405.0,676.9 405.1,674.8 405.2,679.4 405.3,677.8 405.4,681.2 405.4,680.5 405.5,683.7 405.6,682.5 405.7,687.0 405.7,685.1 405.8,689.1 405.9,688.2 406.0,689.1 406.0,684.7 406.1,687.6 406.2,682.0 406.2,683.8 406.3,680.5 406.4,682.3 406.4,677.4 406.5,679.5 406.6,675.0 406.6,676.5 406.7,672.1 406.8,673.8 406.9,669.4 406.9,670.6 407.0,666.6 407.1,669.1 407.1,664.7 407.2,666.0 407.3,661.4 407.3,663.3 407.4,659.5 407.5,660.4 407.5,656.5 407.6,657.6 407.7,653.3 407.7,656.0 407.8,651.0 407.9,656.1 407.9,653.6 408.0,658.0 408.1,656.2 408.2,660.7 408.2,658.3 408.3,663.7 408.4,661.8 408.5,666.4 408.6,663.7 408.6,668.7 408.7,666.1 408.8,670.8 408.9,668.6 408.9,674.0 409.0,671.4 409.1,676.4 409.2,673.9 409.2,678.4 409.3,676.5 409.4,680.5 409.5,679.5 409.5,683.6 409.6,682.5 409.7,683.4 409.8,679.1 409.8,681.2 409.9,677.0 410.0,679.0 410.1,673.8 410.2,675.6 410.2,671.2 410.3,673.3 410.4,668.8 410.5,670.4 410.5,665.5 410.6,668.2 410.7,663.3 410.8,665.7 410.9,660.3 410.9,662.1 411.0,658.2 411.1,660.5 411.2,658.7 411.2,662.6 411.3,661.6 411.4,665.0 411.5,663.8 411.5,667.5 411.6,666.6 411.7,671.2 411.7,668.8 411.8,673.3 411.9,670.9 411.9,676.0 412.0,673.5 412.1,678.7 412.1,676.4 412.2,680.6 412.3,679.3 412.4,684.2 412.4,682.6 412.5,687.0 412.7,682.5 412.9,683.8 413.2,679.9 413.4,681.2 413.6,676.7 413.8,678.0 414.0,673.6 414.3,675.9 414.5,671.5 414.7,673.5 414.9,669.1 415.1,670.4 415.2,666.0 415.4,668.1 415.6,663.8 415.8,665.6 416.0,661.1 416.2,662.0 416.3,658.5 416.5,659.3 416.7,656.0 416.9,657.6 417.0,655.6 417.1,660.3 417.2,657.7 417.2,661.8 417.3,660.0 417.4,665.6 417.5,663.8 417.6,668.1 417.7,665.9 417.7,670.1 417.8,667.8 417.9,672.4 418.0,670.9 418.1,675.9 418.2,673.3 418.3,677.9 418.3,675.5 418.4,680.9 418.5,678.6 418.6,682.6 418.7,681.1 418.8,685.6 418.8,684.3 418.9,687.7 419.0,686.4 419.1,690.3 419.2,686.5 419.3,688.4 419.4,683.9 419.5,685.3 419.7,681.1 419.8,682.8 419.9,678.2 420.0,680.4 420.1,675.3 420.2,678.3 420.3,673.0 420.4,674.7 420.5,671.2 420.6,672.9 420.8,667.7 420.9,670.0 421.0,665.6 421.1,666.9 421.2,662.5 421.3,664.6 421.4,662.6 421.5,667.3 421.6,665.0 421.7,669.3 421.7,668.2 421.8,672.9 421.9,669.9 422.0,675.3 422.1,673.6 422.2,676.8 422.3,675.9 422.4,679.8 422.4,678.0 422.5,682.0 422.6,680.7 422.7,684.5 422.8,683.8 422.9,687.9 423.0,685.8 423.1,690.4 423.1,688.6 423.2,692.8 423.3,691.4 423.4,695.1 423.5,693.2 423.6,695.8 423.7,691.6 423.8,692.4 423.9,688.2 424.0,690.6 424.1,685.7 424.2,687.5 424.3,683.7 424.4,685.1 424.5,680.7 424.6,682.7 424.7,678.4 424.8,681.0 424.9,676.3 425.0,680.5 425.0,678.3 425.1,683.5 425.1,681.3 425.2,685.3 425.3,684.2 425.3,688.6 425.4,686.8 425.5,690.1 425.5,688.7 425.6,693.1 425.6,691.1 425.7,695.4 425.8,693.5 425.8,697.7 425.9,698.0" fill="none" stroke="#d070d8" stroke-width="1.7" stroke-linejoin="round" stroke-linecap="round"/>
<polyline  points="124.4,608.2 132.4,604.5 139.0,607.4 146.3,611.4 155.0,611.8 160.9,613.3 166.7,615.2 174.0,623.5 182.0,627.2 190.0,625.0 196.6,621.3 203.2,619.9 211.2,608.2 220.8,599.3 231.8,585.2 239.1,584.0 246.4,578.9 253.7,572.0 260.3,570.1 267.6,575.3 274.9,578.2 282.2,579.6 289.5,576.4 296.0,570.9 303.0,582.6 310.5,585.6 318.0,588.6 324.8,603.6 331.5,611.8 339.0,608.1 346.5,629.8 353.3,636.9 360.8,635.1 368.3,641.9 375.1,662.1 382.6,671.1 394.6,676.4 403.0,684.9 412.5,687.1 422.7,689.6 433.0,690.7 438.8,690.7 453.4,688.5 462.2,689.0 474.6,690.7 482.6,689.0" fill="none" stroke="#9a0707" stroke-width="2.6" stroke-linejoin="round" stroke-linecap="round"/>
<path d="M303.3,542 L244.9,542.8 M256.6,536.6 L244.9,542.8 L256.6,548.2" fill="none" stroke="#d070d8" stroke-width="2.2" stroke-linecap="round" stroke-linejoin="round"/>
<path d="M361.6,596.8 L323.3,553.3 M326.7,565.3 L323.3,553.3 L335.7,557.8" fill="none" stroke="#d070d8" stroke-width="2.2" stroke-linecap="round" stroke-linejoin="round"/>
<line x1="119" y1="753.5" x2="119" y2="878.3" stroke="#000" stroke-width="2"/>
<line x1="110.5" y1="768.4" x2="119" y2="768.4" stroke="#000" stroke-width="2"/>
<line x1="110.5" y1="786.8" x2="119" y2="786.8" stroke="#000" stroke-width="2"/>
<line x1="110.5" y1="805.2" x2="119" y2="805.2" stroke="#000" stroke-width="2"/>
<line x1="110.5" y1="823.6" x2="119" y2="823.6" stroke="#000" stroke-width="2"/>
<line x1="110.5" y1="841.8" x2="119" y2="841.8" stroke="#000" stroke-width="2"/>
<line x1="110.5" y1="860" x2="119" y2="860" stroke="#000" stroke-width="2"/>
<line x1="110.5" y1="878.3" x2="119" y2="878.3" stroke="#000" stroke-width="2"/>
<text transform="translate(95.64,773.18) scale(1.1,1)" font-size="11.9" fill="#000" text-anchor="end">0.7</text>
<text transform="translate(95.64,791.48) scale(1.1,1)" font-size="11.9" fill="#000" text-anchor="end">0.6</text>
<text transform="translate(95.64,809.78) scale(1.1,1)" font-size="11.9" fill="#000" text-anchor="end">0.5</text>
<text transform="translate(95.64,828.08) scale(1.1,1)" font-size="11.9" fill="#000" text-anchor="end">0.4</text>
<text transform="translate(95.64,846.38) scale(1.1,1)" font-size="11.9" fill="#000" text-anchor="end">0.3</text>
<text transform="translate(95.64,864.68) scale(1.1,1)" font-size="11.9" fill="#000" text-anchor="end">0.2</text>
<text transform="translate(95.64,882.88) scale(1.1,1)" font-size="11.9" fill="#000" text-anchor="end">0.1</text>
<text transform="translate(60.05,815.8) rotate(-90)" x="0" y="0" font-size="17.31" fill="#9a0707" text-anchor="middle" dominant-baseline="central" >Opal+Ba stack</text>
<text transform="translate(29.95,812.95) rotate(-90)" x="0" y="0" font-size="17.19" fill="#9a0707" text-anchor="middle" dominant-baseline="central" >- EP +</text>
<text x="140.0" y="754" font-size="15" fill="#000" >e)</text>
<line x1="528" y1="727.5" x2="528" y2="883.1" stroke="#000" stroke-width="2"/>
<line x1="528" y1="763.4" x2="536.5" y2="763.4" stroke="#000" stroke-width="2"/>
<line x1="528" y1="811.3" x2="536.5" y2="811.3" stroke="#000" stroke-width="2"/>
<line x1="528" y1="859.2" x2="536.5" y2="859.2" stroke="#000" stroke-width="2"/>
<text transform="translate(551.16,768.26) scale(1.085,1)" font-size="12.1" fill="#000" text-anchor="start">0.12</text>
<text transform="translate(551.16,816.06) scale(1.085,1)" font-size="12.1" fill="#000" text-anchor="start">0.08</text>
<text transform="translate(551.16,863.76) scale(1.085,1)" font-size="12.1" fill="#000" text-anchor="start">0.04</text>
<text transform="translate(592.45,805.8) rotate(-90)" x="0" y="0" font-size="17.32" fill="#6b6b36" text-anchor="middle" dominant-baseline="central" >Relative STC position</text>
<text x="622.5" y="770.9" font-size="17" fill="#6b6b36" >South</text>
<text x="624.4" y="866.7" font-size="17" fill="#6b6b36" >North</text>
<path d="M645,788.5 L645,844 M639.3,799.6 L645,787.6 L650.7,799.6 M639.3,832.9 L645,844.6 L650.7,832.9" fill="none" stroke="#6b6b36" stroke-width="2" stroke-linejoin="miter"/>
<text x="419.95" y="819.7" font-size="15" fill="#6b6b36" >GeoB-3603-2</text>
<text x="413.2" y="928.6" font-size="15" fill="#000" >Antarctic Zone</text>
<polyline stroke-dasharray="3.6,7.4" points="125.1,796.6 132.4,725.1 133.9,740.4 136.1,760.9 141.9,826.6 149.9,820.0 165.3,841.2 170.4,819.3 176.2,793.0 182.8,792.3 191.5,778.4 207.6,747.0 220.0,752.1 223.8,755.0 226.7,771.1 229.6,793.0 234.0,828.8 243.5,804.7 250.8,785.0 257.3,773.3 261.7,776.2 266.8,787.9 271.2,790.8 282.2,790.4 288.0,795.9 294.6,802.5 299.7,803.9 306.0,805.6 319.5,822.1 333.8,828.1 338.3,820.6 342.8,814.6 348.0,838.6 351.8,854.4 361.6,852.1 369.8,852.1 375.1,862.6 380.3,844.6 384.1,828.9 388.6,831.9 394.6,850.6 400.8,867.6 405.2,854.5 411.1,834.0 418.4,834.7 433.0,832.6 437.3,839.9 441.7,855.9 447.6,874.9 451.2,887.3 460.7,888.0 468.0,885.1 474.6,896.8 481.1,897.5" fill="none" stroke="#a87035" stroke-width="2.5" stroke-linejoin="round" stroke-linecap="round"/>
<polyline  points="126.6,818.8 140.4,818.5 149.2,813.4 158.0,807.6 159.4,801.0 171.1,794.5 174.0,791.5 182.8,787.4 193.0,787.2 204.7,786.4 207.6,785.0 209.8,779.1 222.3,774.7 231.1,773.7 238.4,774.7 245.7,777.7 254.4,784.2 261.7,789.3 265.4,793.0 274.9,795.2 283.6,798.1 292.4,798.8 301.1,798.1 306.2,805.4 315.0,814.6 325.5,822.9 334.5,826.6 345.0,833.4 357.1,842.4 368.3,844.9 384.1,843.1 395.0,844.2 405.9,847.2 418.4,850.8 428.6,853.7 441.7,860.0 444.6,867.6 454.9,874.9 465.1,880.7 472.4,882.2 476.0,888.0 481.1,891.7" fill="none" stroke="#6b6b36" stroke-width="2.2" stroke-linejoin="round" stroke-linecap="round"/>
<polyline  points="124.4,805.0 132.4,801.2 140.4,804.7 147.0,807.6 155.0,807.9 166.7,811.2 174.0,819.3 182.8,822.2 188.6,821.5 196.6,817.1 203.2,816.4 210.5,804.7 222.3,793.7 231.1,782.8 239.1,781.3 245.7,776.9 253.7,770.4 261.0,768.5 268.3,774.0 274.9,776.9 282.2,777.7 289.5,774.7 296.0,768.9 303.0,780.1 310.5,783.1 318.0,786.1 324.8,800.3 331.5,808.9 339.0,804.8 345.8,825.1 353.3,832.3 360.8,830.4 368.3,837.1 375.1,856.6 382.6,864.9 395.3,870.2 403.8,878.5 416.9,880.7 431.5,883.6 440.3,883.4 453.4,881.5 462.2,881.5 474.6,883.6 482.6,881.8" fill="none" stroke="#9a0707" stroke-width="2.4" stroke-linejoin="round" stroke-linecap="round"/>
<path d="M305.5,734.6 L246.4,735 M258.8,729.5 L246.4,735 L258.8,741.2" fill="none" stroke="#b83a44" stroke-width="2.2" stroke-linecap="round" stroke-linejoin="round"/>
<path d="M362.3,789.4 L323.3,745.5 M327,758.3 L323.3,745.5 L336,750.8" fill="none" stroke="#b83a44" stroke-width="2.2" stroke-linecap="round" stroke-linejoin="round"/>
<line x1="119.1" y1="909.3" x2="119.1" y2="1033.7" stroke="#000" stroke-width="2"/>
<line x1="110.6" y1="934.1" x2="119.1" y2="934.1" stroke="#000" stroke-width="2"/>
<line x1="110.6" y1="983.9" x2="119.1" y2="983.9" stroke="#000" stroke-width="2"/>
<line x1="110.6" y1="1033.7" x2="119.1" y2="1033.7" stroke="#000" stroke-width="2"/>
<text transform="translate(103.69,938.75) scale(1.0,1)" font-size="13.2" fill="#000" text-anchor="end">280</text>
<text transform="translate(103.69,988.55) scale(1.0,1)" font-size="13.2" fill="#000" text-anchor="end">240</text>
<text transform="translate(103.69,1038.25) scale(1.0,1)" font-size="13.2" fill="#000" text-anchor="end">200</text>
<text transform="translate(61.5,971.2) rotate(-90)" x="0" y="0" font-size="17.19" fill="#1670d8" text-anchor="middle" dominant-baseline="central" >CO<tspan baseline-shift="sub" font-size="11">2</tspan> (ppmv)</text>
<text transform="translate(32.1,968.5) rotate(-90)" x="0" y="0" font-size="17.12" fill="#1670d8" text-anchor="middle" dominant-baseline="central" >- CO<tspan baseline-shift="sub" font-size="11">2</tspan> +</text>
<text x="145.8" y="933.8" font-size="15" fill="#000" >f)</text>
<line x1="528" y1="911.4" x2="528" y2="1067.1" stroke="#000" stroke-width="2"/>
<line x1="528" y1="911.4" x2="536.5" y2="911.4" stroke="#000" stroke-width="2"/>
<line x1="528" y1="922.8" x2="536.5" y2="922.8" stroke="#000" stroke-width="2"/>
<line x1="528" y1="943.5" x2="536.5" y2="943.5" stroke="#000" stroke-width="2"/>
<line x1="528" y1="963.8" x2="536.5" y2="963.8" stroke="#000" stroke-width="2"/>
<line x1="528" y1="984.8" x2="536.5" y2="984.8" stroke="#000" stroke-width="2"/>
<line x1="528" y1="1005.1" x2="536.5" y2="1005.1" stroke="#000" stroke-width="2"/>
<line x1="528" y1="1025.8" x2="536.5" y2="1025.8" stroke="#000" stroke-width="2"/>
<line x1="528" y1="1046.4" x2="536.5" y2="1046.4" stroke="#000" stroke-width="2"/>
<line x1="528" y1="1067.1" x2="536.5" y2="1067.1" stroke="#000" stroke-width="2"/>
<text transform="translate(551.16,927.76) scale(1.06,1)" font-size="12.1" fill="#000" text-anchor="start">0.7</text>
<text transform="translate(551.16,948.36) scale(1.06,1)" font-size="12.1" fill="#000" text-anchor="start">0.6</text>
<text transform="translate(551.16,968.96) scale(1.06,1)" font-size="12.1" fill="#000" text-anchor="start">0.5</text>
<text transform="translate(551.16,989.66) scale(1.06,1)" font-size="12.1" fill="#000" text-anchor="start">0.4</text>
<text transform="translate(551.16,1010.26) scale(1.06,1)" font-size="12.1" fill="#000" text-anchor="start">0.3</text>
<text transform="translate(551.16,1030.86) scale(1.06,1)" font-size="12.1" fill="#000" text-anchor="start">0.2</text>
<text transform="translate(551.16,1051.46) scale(1.06,1)" font-size="12.1" fill="#000" text-anchor="start">0.1</text>
<text transform="translate(551.16,1072.06) scale(1.06,1)" font-size="12.1" fill="#000" text-anchor="start">0</text>
<text transform="translate(586.75,989.65) rotate(-90)" x="0" y="0" font-size="17.31" fill="#9a0707" text-anchor="middle" dominant-baseline="central" >Opal+Ba stack</text>
<text transform="translate(614.5,987.95) rotate(-90)" x="0" y="0" font-size="17.19" fill="#9a0707" text-anchor="middle" dominant-baseline="central" >- EP +</text>
<polyline  points="125.1,976.9 128.8,974.3 134.6,977.7 139.7,983.5 144.8,987.2 155.8,974.3 155.8,985.0 160.1,980.6 162.3,970.4 164.5,971.8 167.0,955.0 169.6,982.0 171.8,978.4 174.7,982.8 179.9,982.0 185.0,987.9 188.6,978.4 191.5,976.2 195.2,968.9 196.6,976.2 201.0,974.7 202.5,965.3 207.6,954.3 209.8,960.1 213.4,947.7 215.6,962.3 216.5,948.8 218.2,959.1 220.8,938.6 223.0,957.6 232.5,938.6 236.2,939.3 239.1,943.0 250.0,940.8 262.4,949.6 266.1,940.8 269.0,948.1 271.9,937.9 277.8,935.0 281.4,938.3 284.3,935.7 289.5,935.0 293.8,940.8 298.9,932.8 301.9,940.1 304.5,937.1 307.5,944.6 310.5,940.8 313.5,943.1 315.8,949.8 317.3,940.8 321.0,940.1 322.5,937.1 323.7,924.3 324.8,938.6 326.3,921.3 327.3,929.5 328.5,920.5 330.0,938.6 331.5,947.6 333.8,952.1 336.0,957.3 339.0,956.6 342.0,968.6 345.0,971.6 348.0,980.6 351.8,988.1 355.6,993.4 359.3,1001.6 361.6,1004.6 364.6,1005.4 366.8,1007.6 368.3,1019.6 371.3,1018.1 375.1,1024.9 381.1,1033.2 389.3,1040.7 394.8,1034.2 398.0,1037.4 402.0,1035.0 405.3,1044.6 410.1,1042.2 414.1,1050.2 418.9,1053.0 426.9,1038.2 428.5,1041.7 444.6,1038.2 454.2,1041.4 469.5,1038.5 478.3,1031.0" fill="none" stroke="#1670d8" stroke-width="2.2" stroke-linejoin="round" stroke-linecap="round"/>
<polyline  points="124.4,963.8 132.4,959.4 139.0,963.1 146.3,967.2 154.3,967.0 160.9,968.9 167.4,971.4 174.7,979.9 182.8,983.5 189.3,982.0 196.6,978.0 203.2,976.6 210.5,963.5 223.0,948.8 231.8,938.3 238.4,937.4 245.7,932.5 253.7,924.7 261.0,922.6 268.3,928.1 275.6,931.3 282.2,932.8 289.5,929.6 296.0,923.3 303.8,936.3 310.5,938.6 318.0,943.1 324.8,958.8 332.3,968.6 339.0,963.3 345.8,986.6 353.3,994.9 360.8,991.9 368.3,1000.1 375.1,1022.6 381.8,1031.7 394.6,1036.9 396.4,1038.2 403.7,1047.0 410.9,1048.6 422.1,1051.5 431.8,1053.0 439.8,1053.0 454.2,1050.7 463.9,1051.3 475.1,1053.1 482.3,1050.7" fill="none" stroke="#9a0707" stroke-width="2.4" stroke-linejoin="round" stroke-linecap="round"/>
<path d="M305.5,883.1 L246.4,883.9 M258.8,877.6 L246.4,883.9 L258.8,889.4" fill="none" stroke="#1670d8" stroke-width="2.2" stroke-linecap="round" stroke-linejoin="round"/>
<path d="M361.9,937.8 L323.3,893.8 M326.7,906.7 L323.3,893.8 L336,898.8" fill="none" stroke="#1670d8" stroke-width="2.2" stroke-linecap="round" stroke-linejoin="round"/>
<line x1="124.1" y1="1083" x2="483.2" y2="1083" stroke="#000" stroke-width="2"/>
<line x1="125.1" y1="1083" x2="125.1" y2="1091.5" stroke="#000" stroke-width="2"/>
<line x1="160.8" y1="1083" x2="160.8" y2="1091.5" stroke="#000" stroke-width="2"/>
<line x1="196.5" y1="1083" x2="196.5" y2="1091.5" stroke="#000" stroke-width="2"/>
<line x1="232.2" y1="1083" x2="232.2" y2="1091.5" stroke="#000" stroke-width="2"/>
<line x1="267.9" y1="1083" x2="267.9" y2="1091.5" stroke="#000" stroke-width="2"/>
<line x1="303.6" y1="1083" x2="303.6" y2="1091.5" stroke="#000" stroke-width="2"/>
<line x1="339.4" y1="1083" x2="339.4" y2="1091.5" stroke="#000" stroke-width="2"/>
<line x1="375.1" y1="1083" x2="375.1" y2="1091.5" stroke="#000" stroke-width="2"/>
<line x1="410.8" y1="1083" x2="410.8" y2="1091.5" stroke="#000" stroke-width="2"/>
<line x1="446.5" y1="1083" x2="446.5" y2="1091.5" stroke="#000" stroke-width="2"/>
<line x1="482.2" y1="1083" x2="482.2" y2="1091.5" stroke="#000" stroke-width="2"/>
<text transform="translate(125.30,1111.4) scale(1.07,1)" font-size="12" text-anchor="middle">100</text>
<text transform="translate(196.72,1111.4) scale(1.07,1)" font-size="12" text-anchor="middle">110</text>
<text transform="translate(268.14,1111.4) scale(1.07,1)" font-size="12" text-anchor="middle">120</text>
<text transform="translate(339.56,1111.4) scale(1.07,1)" font-size="12" text-anchor="middle">130</text>
<text transform="translate(410.98,1111.4) scale(1.07,1)" font-size="12" text-anchor="middle">140</text>
<text transform="translate(482.40,1111.4) scale(1.07,1)" font-size="12" text-anchor="middle">150</text>
<text x="275.8" y="1128" font-size="15" fill="#000" >Age (ka)</text>
</svg></body></html>
